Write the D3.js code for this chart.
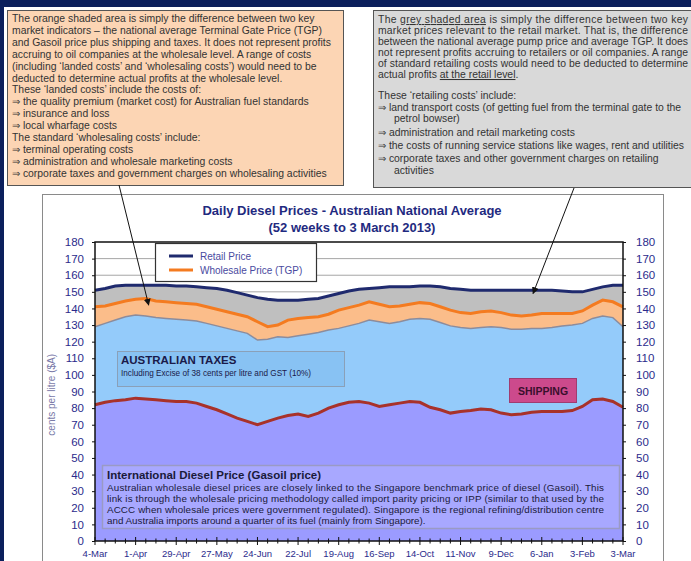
<!DOCTYPE html>
<html>
<head>
<meta charset="utf-8">
<script src="https://cdn.jsdelivr.net/npm/d3@7"></script>
<style>
  body { margin: 0; background: #fff; }
  svg { display: block; font-family: "Liberation Sans", Arial, sans-serif; }
</style>
</head>
<body>
<div id="chart"></div>
<script>
// weekly readings, 4 Mar 2012 .. 3 Mar 2013 (cents per litre)
const retail = [151, 152, 153.5, 154, 154, 154, 154, 154, 153.5, 153.5, 153, 152.5, 152, 151, 149.5, 148, 146.5, 145.5, 145, 145, 145, 145.5, 146, 147.5, 149, 150.5, 151.5, 152, 152.5, 153, 153, 153, 153.5, 153.5, 153, 152, 151.5, 151, 151, 151, 151, 151, 151, 151, 151, 151, 150.5, 150, 150, 151.5, 153, 154, 154];
const tgp = [141, 141.5, 143, 144.5, 145.5, 146, 144.5, 144, 143.5, 143, 142.5, 141, 139.5, 138, 136.5, 135, 132, 129, 130, 133, 134, 134.5, 135, 136.5, 139, 140.5, 142, 144, 142.5, 141, 141.5, 142.5, 143.5, 143, 141, 139, 137.5, 137, 138, 138.5, 137.5, 136, 135.5, 136, 137, 137, 137, 137, 138.5, 142, 145, 144, 141];
const taxTop = [129, 131, 133, 135, 136, 135.5, 134.5, 134, 133.5, 133, 132.5, 131, 129.5, 128, 126.5, 125, 121, 121.5, 123, 122.5, 123.5, 124.5, 125.5, 127, 128, 129.5, 131, 133, 132, 131, 132, 133.5, 134, 133.5, 131.5, 129.5, 128.5, 128, 128.5, 129, 128.5, 127.5, 127.5, 128, 128, 128.5, 129.5, 130, 131, 134, 135.5, 134.5, 129];
const gasoil = [82, 83.5, 84.5, 85, 86, 85.5, 85, 84.5, 84, 84, 83, 81, 79, 76.5, 74, 72, 70, 72, 74, 75.5, 76.5, 75, 77, 80, 82, 83.5, 84, 83, 81, 82, 83, 84, 83.5, 80.5, 79, 77, 78, 78.5, 79.5, 79, 77, 76, 76.5, 77.5, 78, 78, 78, 78.5, 81, 85, 85.5, 84, 80.5];

const xLabels = ["4-Mar", "1-Apr", "29-Apr", "27-May", "24-Jun", "22-Jul", "19-Aug", "16-Sep", "14-Oct", "11-Nov", "9-Dec", "6-Jan", "3-Feb", "3-Mar"];
const yTicks = [0, 10, 20, 30, 40, 50, 60, 70, 80, 90, 100, 110, 120, 130, 140, 150, 160, 170, 180];

const orangeNote = [
  "The orange shaded area is simply the difference between two key",
  "market indicators \u2013 the national average Terminal Gate Price (TGP)",
  "and Gasoil price plus shipping and taxes. It does not represent profits",
  "accruing to oil companies at the wholesale level. A range of costs",
  "(including \u2018landed costs\u2019 and \u2018wholesaling costs\u2019) would need to be",
  "deducted to determine actual profits at the wholesale level.",
  "These \u2018landed costs\u2019 include the costs of:",
  "\u21d2 the quality premium (market cost) for Australian fuel standards",
  "\u21d2 insurance and loss",
  "\u21d2 local wharfage costs",
  "The standard \u2018wholesaling costs\u2019 include:",
  "\u21d2 terminal operating costs",
  "\u21d2 administration and wholesale marketing costs",
  "\u21d2 corporate taxes and government charges on wholesaling activities"
];
const greyNote = [
  "market prices relevant to the retail market.  That is, the difference",
  "between the national average pump price and average TGP.  It does",
  "not represent profits accruing to retailers or oil companies.  A range",
  "of standard retailing costs would need to be deducted to determine"
];
const greyList = [
  ["These \u2018retailing costs\u2019 include:", 0, 99],
  ["\u21d2  land transport costs (of getting fuel from the terminal gate to the", 0, 111],
  ["petrol bowser)", 16, 122],
  ["\u21d2 administration and retail marketing costs", 0, 136],
  ["\u21d2 the costs of running service stations like wages, rent and utilities", 0, 149],
  ["\u21d2 corporate taxes and other government charges on retailing", 0, 162],
  ["activities", 16, 174]
];
const gasoilNote = [
  "Australian wholesale diesel prices are closely linked to the Singapore benchmark price of diesel (Gasoil).   This",
  "link is through the wholesale pricing methodology called import parity pricing or IPP (similar to that used by the",
  "ACCC when wholesale prices were government regulated).  Singapore is the regional refining/distribution centre",
  "and Australia imports around a quarter of its fuel (mainly from Singapore)."
];

const width = 691, height = 561;
const svg = d3.select("#chart").append("svg")
  .attr("width", width)
  .attr("height", height);

const navy = "#0b1f5c";
svg.append("rect").attr("x", 0).attr("y", 0).attr("width", width).attr("height", 7).attr("fill", navy);
svg.append("rect").attr("x", 0).attr("y", 0).attr("width", 4).attr("height", height).attr("fill", navy);

// annotation boxes
svg.append("rect").attr("x", 7.5).attr("y", 10.5).attr("width", 336).attr("height", 175)
  .attr("fill", "#fcd5b4").attr("stroke", "#555").attr("stroke-width", 1);
svg.append("g").selectAll("text").data(orangeNote).enter().append("text")
  .attr("x", 12).attr("y", (d, i) => 22 + i * 11.9)
  .attr("font-size", 10.4).attr("fill", "#333")
  .text(d => d);

svg.append("rect").attr("x", 373.5).attr("y", 10.5).attr("width", 330).attr("height", 177)
  .attr("fill", "#d9d9d9").attr("stroke", "#555").attr("stroke-width", 1);
const g1 = svg.append("text").attr("x", 378).attr("y", 23).attr("font-size", 10.4).attr("fill", "#333")
  .attr("textLength", 310).attr("lengthAdjust", "spacing");
g1.append("tspan").text("The ");
g1.append("tspan").attr("text-decoration", "underline").text("grey shaded area");
g1.append("tspan").text(" is simply the difference between two key");
svg.append("g").selectAll("text").data(greyNote).enter().append("text")
  .attr("x", 378).attr("y", (d, i) => 34 + i * 11)
  .attr("font-size", 10.4).attr("fill", "#333")
  .attr("textLength", 310).attr("lengthAdjust", "spacing")
  .text(d => d);
const g6 = svg.append("text").attr("x", 378).attr("y", 78).attr("font-size", 10.4).attr("fill", "#333");
g6.append("tspan").text("actual profits  ");
g6.append("tspan").attr("text-decoration", "underline").text("at the retail level");
g6.append("tspan").text(".");
svg.append("g").selectAll("text").data(greyList).enter().append("text")
  .attr("x", d => 378 + d[1]).attr("y", d => d[2])
  .attr("font-size", 10.4).attr("fill", "#333")
  .text(d => d[0]);

// chart frame
svg.append("rect").attr("x", 42.5).attr("y", 194.5).attr("width", 621).attr("height", 380)
  .attr("fill", "#fff").attr("stroke", "#8a8a8a").attr("stroke-width", 1);

svg.append("text").attr("x", 352).attr("y", 215).attr("text-anchor", "middle")
  .attr("font-size", 13).attr("font-weight", "bold").attr("fill", "#1f2a80")
  .text("Daily Diesel Prices - Australian National Average");
svg.append("text").attr("x", 352).attr("y", 232).attr("text-anchor", "middle")
  .attr("font-size", 13).attr("font-weight", "bold").attr("fill", "#1f2a80")
  .text("(52 weeks to 3 March 2013)");

const start = new Date(2012, 2, 4), end = new Date(2013, 2, 3);
const dates = retail.map((d, i) => d3.timeDay.offset(start, i * 7));
const x = d3.scaleTime().domain([start, end]).range([95, 623]);
const y = d3.scaleLinear().domain([0, 180]).range([541, 242]);

const plot = svg.append("g");

// gridlines
plot.selectAll("line.grid").data(yTicks.slice(1, -1)).enter().append("line")
  .attr("x1", x.range()[0]).attr("x2", x.range()[1])
  .attr("y1", d => y(d)).attr("y2", d => y(d))
  .attr("stroke", "#a6a6a6").attr("stroke-width", 1);

const rows = dates.map((d, i) => ({ date: d, retail: retail[i], tgp: tgp[i], tax: taxTop[i], gasoil: gasoil[i] }));

const band = (lo, hi) => d3.area().x(d => x(d.date)).y0(d => y(lo(d))).y1(d => y(hi(d)));
const line = key => d3.line().x(d => x(d.date)).y(d => y(d[key]));

plot.append("path").datum(rows).attr("d", band(d => d.tgp, d => d.retail)).attr("fill", "#bfbfbf");
plot.append("path").datum(rows).attr("d", band(d => d.tax, d => d.tgp)).attr("fill", "#fbbd8a");
plot.append("path").datum(rows).attr("d", band(d => d.gasoil, d => d.tax)).attr("fill", "#94cbfa");
plot.append("path").datum(rows).attr("d", band(d => 0, d => d.gasoil)).attr("fill", "#9b9bff");

plot.append("path").datum(rows).attr("d", line("tax")).attr("fill", "none").attr("stroke", "#8c8c9c").attr("stroke-width", 1.5);
plot.append("path").datum(rows).attr("d", line("gasoil")).attr("fill", "none").attr("stroke", "#a8322a").attr("stroke-width", 3);
plot.append("path").datum(rows).attr("d", line("tgp")).attr("fill", "none").attr("stroke", "#f47b20").attr("stroke-width", 3);
plot.append("path").datum(rows).attr("d", line("retail")).attr("fill", "none").attr("stroke", "#1f2a6e").attr("stroke-width", 3);

// text boxes inside plot
svg.append("rect").attr("x", 117.5).attr("y", 351.5).attr("width", 227).attr("height", 35)
  .attr("fill", "#88c2f3").attr("stroke", "#8aa0b8").attr("stroke-width", 1);
svg.append("text").attr("x", 121).attr("y", 364).attr("font-size", 11.5).attr("font-weight", "bold")
  .attr("fill", "#1a1a4a").text("AUSTRALIAN TAXES");
svg.append("text").attr("x", 121).attr("y", 376).attr("font-size", 8.2)
  .attr("fill", "#1a1a4a").text("Including Excise of 38 cents per litre and GST (10%)");

svg.append("rect").attr("x", 509.5).attr("y", 378.5).attr("width", 67).attr("height", 24)
  .attr("fill", "#cc4a8c").attr("stroke", "#a03c70").attr("stroke-width", 1);
svg.append("text").attr("x", 543).attr("y", 394.5).attr("text-anchor", "middle").attr("font-size", 10.5)
  .attr("font-weight", "bold").attr("fill", "#3a0f2c").text("SHIPPING");

svg.append("rect").attr("x", 102.5).attr("y", 465.5).attr("width", 517).attr("height", 63)
  .attr("fill", "#a8a8ff").attr("stroke", "#9a9ac4").attr("stroke-width", 1.5);
svg.append("text").attr("x", 107).attr("y", 479).attr("font-size", 11.5).attr("font-weight", "bold")
  .attr("fill", "#1a1a3a").text("International Diesel Price (Gasoil price)");
svg.append("g").selectAll("text").data(gasoilNote).enter().append("text")
  .attr("x", 107).attr("y", (d, i) => 490.5 + i * 11.2)
  .attr("font-size", 9.8).attr("fill", "#1a1a3a")
  .attr("textLength", (d, i) => i < 3 ? 497 : null)
  .attr("lengthAdjust", "spacing")
  .text(d => d);

// plot border
svg.append("rect").attr("x", 95).attr("y", 242).attr("width", 528).attr("height", 299)
  .attr("fill", "none").attr("stroke", "#111").attr("stroke-width", 1.5);

// axes
const tickColor = "#2b2b8c";
const yLeft = svg.append("g").attr("transform", "translate(95,0)")
  .call(d3.axisLeft(y).tickValues(yTicks).tickSize(3).tickPadding(8));
const yRight = svg.append("g").attr("transform", "translate(623,0)")
  .call(d3.axisRight(y).tickValues(yTicks).tickSize(3).tickPadding(10));
[yLeft, yRight].forEach(a => {
  a.select(".domain").remove();
  a.selectAll("line").attr("stroke", "#111");
  a.selectAll("text").attr("font-size", 11.5).attr("fill", tickColor).attr("font-family", "inherit");
});

const weekTicks = svg.append("g").attr("transform", "translate(0,541)");
weekTicks.selectAll("line").data(dates).enter().append("line")
  .attr("x1", d => x(d)).attr("x2", d => x(d))
  .attr("y1", (d, i) => i % 4 === 0 ? -4 : -2.5)
  .attr("y2", (d, i) => i % 4 === 0 ? 4 : 2.5)
  .attr("stroke", "#111").attr("stroke-width", 1);
const labelDates = dates.filter((d, i) => i % 4 === 0);
weekTicks.selectAll("text").data(xLabels).enter().append("text")
  .attr("x", (d, i) => x(labelDates[i]))
  .attr("y", 16)
  .attr("text-anchor", "middle")
  .attr("font-size", 9.5).attr("fill", tickColor)
  .text(d => d);

svg.append("text")
  .attr("transform", "translate(55," + y(88) + ") rotate(-90)")
  .attr("text-anchor", "middle").attr("font-size", 10).attr("fill", "#7a7aa8")
  .text("cents per litre ($A)");

// legend
const legend = svg.append("g");
legend.append("rect").attr("x", 155.5).attr("y", 243.5).attr("width", 161).attr("height", 38)
  .attr("fill", "#fff").attr("stroke", "#333").attr("stroke-width", 1.2);
const legendItems = [["Retail Price", "#1f2a6e"], ["Wholesale Price (TGP)", "#f47b20"]];
legend.selectAll("line").data(legendItems).enter().append("line")
  .attr("x1", 169).attr("x2", 193)
  .attr("y1", (d, i) => 256 + i * 14).attr("y2", (d, i) => 256 + i * 14)
  .attr("stroke", d => d[1]).attr("stroke-width", 3);
legend.selectAll("text").data(legendItems).enter().append("text")
  .attr("x", 200).attr("y", (d, i) => 259.5 + i * 14)
  .attr("font-size", 10).attr("fill", "#4a4aa0")
  .text(d => d[0]);

// arrows
const defs = svg.append("defs");
defs.append("marker").attr("id", "head").attr("viewBox", "0 0 10 10")
  .attr("refX", 9).attr("refY", 5).attr("markerWidth", 7).attr("markerHeight", 7)
  .attr("orient", "auto-start-reverse")
  .append("path").attr("d", "M0,0 L10,5 L0,10 z").attr("fill", "#111");
const arrows = [
  { from: [119, 185], to: [d3.timeDay.offset(start, 37), 142] },
  { from: [574, 188], to: [d3.timeDay.offset(start, 302), 149] }
];
svg.selectAll("line.arrow").data(arrows).enter().append("line")
  .attr("x1", d => d.from[0]).attr("y1", d => d.from[1])
  .attr("x2", d => x(d.to[0])).attr("y2", d => y(d.to[1]))
  .attr("stroke", "#111").attr("stroke-width", 1)
  .attr("marker-end", "url(#head)");
</script>
</body>
</html>
